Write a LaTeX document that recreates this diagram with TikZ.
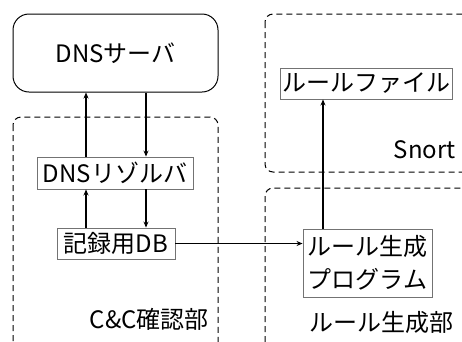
\documentclass[tikz,border=0pt]{standalone}
\usepackage{fontspec}
\setmainfont{Noto Sans CJK JP}
\usetikzlibrary{arrows.meta}
\begin{document}
\begin{tikzpicture}[x=1pt,y=-1pt,
  every node/.style={font=\fontsize{24}{33}\selectfont, inner sep=0pt},
  box/.style={draw=black!55, line width=0.9pt},
  group/.style={draw=black, dashed, dash pattern=on 6pt off 4pt, line width=1pt, rounded corners=8pt},
  arr/.style={-{Stealth[length=6pt,width=5pt]}, line width=1.1pt}]
\useasboundingbox (0,0) rectangle (462,341);
\clip (0,0) rectangle (462,341);
\fill[white] (0,0) rectangle (462,341);
% groups
\draw[group] (13,117) rectangle (218,360);
\draw[group] (265,14) rectangle (480,172);
\draw[group] (265,188) rectangle (480,360);
% nodes
\node[draw=black, line width=1pt, rounded corners=16pt, minimum width=205pt, minimum height=78pt] (dns) at (115.5,53) {DNSサーバ};
\node[box, minimum width=156pt, minimum height=32pt] (res) at (115,173) {DNSリゾルバ};
\node[box, minimum width=118pt, minimum height=31pt] (db) at (116,243.5) {記録用DB};
\node[box, minimum width=172pt, minimum height=31pt] (rf) at (366,83.5) {ルールファイル};
\node[box, minimum width=129pt, minimum height=68pt, align=center] (gen) at (367.5,263) {ルール生成\\プログラム};
\node[anchor=east] (cc) at (209,319) {C\&C確認部};
\node[anchor=east] (sn) at (456,150) {Snort};
\node[anchor=east] (gl) at (454,322) {ルール生成部};
% connectors
\coordinate (xl) at (86,0);
\coordinate (xr) at (146,0);
\coordinate (xg) at (323,0);
\draw[arr] (res.north -| xl) -- (dns.south -| xl);
\draw[arr] (dns.south -| xr) -- (res.north -| xr);
\draw[arr] (db.north -| xl) -- (res.south -| xl);
\draw[arr] (res.south -| xr) -- (db.north -| xr);
\draw[arr] (db.east) -- (db.east -| gen.west);
\draw[arr] (gen.north -| xg) -- (rf.south -| xg);
\end{tikzpicture}
\end{document}
